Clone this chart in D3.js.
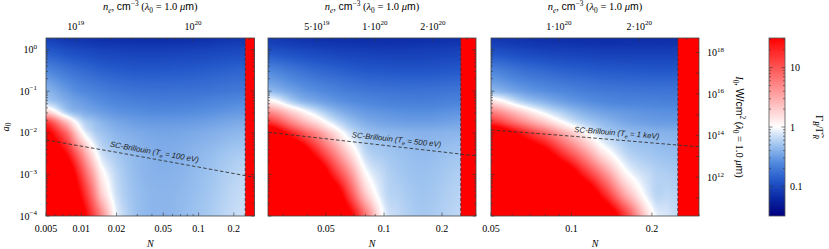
<!DOCTYPE html>
<html>
<head>
<meta charset="utf-8">
<script src="https://cdn.jsdelivr.net/npm/d3@7"></script>
<style>
  body { margin: 0; background: #fff; }
</style>
</head>
<body>
<div id="chart"></div>
<script>
// log10(Γ_B/Γ_R), rows = a0 (bottom -> top), cols = N
const a0Rows = [1e-4, 3.16e-4, 1e-3, 3.16e-3, 1e-2, 1.78e-2, 3.16e-2, 5.62e-2, 0.1, 0.316, 1, 1.9];

const N1 = [0.005, 0.0075, 0.01, 0.0125, 0.015, 0.02, 0.03, 0.05, 0.1, 0.25];
const logRatio1 = [
  [2, 2, 1.7, 1.15, 0.68, -0.05, -0.32, -0.38, -0.3, -0.15],
  [2, 2, 1.45, 0.85, 0.3, -0.15, -0.33, -0.38, -0.32, -0.17],
  [2, 1.9, 1.15, 0.55, 0.08, -0.2, -0.35, -0.4, -0.34, -0.2],
  [2, 1.45, 0.72, 0.17, -0.15, -0.28, -0.37, -0.42, -0.37, -0.26],
  [1.6, 0.9, 0.1, -0.2, -0.3, -0.38, -0.43, -0.46, -0.43, -0.36],
  [1.2, 0.4, -0.15, -0.3, -0.38, -0.45, -0.5, -0.52, -0.5, -0.43],
  [0.3, -0.25, -0.4, -0.46, -0.5, -0.55, -0.58, -0.6, -0.58, -0.52],
  [-0.25, -0.42, -0.5, -0.55, -0.59, -0.63, -0.66, -0.68, -0.66, -0.6],
  [-0.38, -0.52, -0.6, -0.64, -0.67, -0.71, -0.74, -0.75, -0.74, -0.7],
  [-0.62, -0.72, -0.78, -0.82, -0.85, -0.88, -0.9, -0.9, -0.88, -0.83],
  [-0.9, -0.97, -1.0, -1.02, -1.04, -1.05, -1.06, -1.06, -1.04, -1.0],
  [-1.05, -1.1, -1.12, -1.14, -1.15, -1.16, -1.17, -1.17, -1.15, -1.1]
];

const N2 = [0.025, 0.035, 0.045, 0.055, 0.065, 0.08, 0.1, 0.12, 0.16, 0.25];
const logRatio2 = [
  [2, 2, 2, 2, 1.65, 0.84, -0.03, -0.2, -0.28, -0.2],
  [2, 2, 2, 1.86, 1.2, 0.35, -0.15, -0.24, -0.3, -0.22],
  [2, 2, 1.95, 1.3, 0.76, 0.05, -0.2, -0.28, -0.32, -0.25],
  [2, 2, 1.33, 0.76, 0.29, -0.18, -0.28, -0.32, -0.35, -0.3],
  [1.9, 1.2, 0.68, 0.24, -0.1, -0.3, -0.36, -0.38, -0.4, -0.38],
  [1.25, 0.62, 0.2, -0.12, -0.3, -0.42, -0.47, -0.49, -0.5, -0.47],
  [0.7, 0.2, -0.15, -0.35, -0.45, -0.52, -0.55, -0.57, -0.58, -0.55],
  [0.12, -0.3, -0.45, -0.53, -0.58, -0.62, -0.65, -0.66, -0.67, -0.64],
  [-0.35, -0.5, -0.59, -0.64, -0.68, -0.71, -0.73, -0.74, -0.74, -0.72],
  [-0.62, -0.73, -0.8, -0.84, -0.87, -0.9, -0.91, -0.92, -0.92, -0.9],
  [-0.95, -1.0, -1.03, -1.05, -1.06, -1.07, -1.08, -1.08, -1.07, -1.05],
  [-1.08, -1.12, -1.14, -1.15, -1.16, -1.17, -1.17, -1.17, -1.16, -1.14]
];

const N3 = [0.05, 0.065, 0.08, 0.095, 0.11, 0.13, 0.16, 0.2, 0.23, 0.25];
const logRatio3 = [
  [2, 2, 2, 2, 2, 2, 1.14, 0.06, -0.12, -0.18],
  [2, 2, 2, 2, 2, 1.4, 0.5, -0.15, -0.2, -0.22],
  [2, 2, 2, 1.87, 1.37, 0.78, 0.06, -0.2, -0.25, -0.27],
  [2, 2, 1.66, 1.14, 0.7, 0.18, -0.2, -0.3, -0.33, -0.34],
  [2, 1.38, 0.9, 0.46, 0.11, -0.2, -0.33, -0.38, -0.4, -0.4],
  [1.25, 0.73, 0.32, -0.02, -0.22, -0.35, -0.45, -0.5, -0.51, -0.51],
  [0.75, 0.28, -0.08, -0.28, -0.4, -0.48, -0.53, -0.56, -0.57, -0.57],
  [0.2, -0.22, -0.4, -0.5, -0.56, -0.61, -0.64, -0.65, -0.66, -0.66],
  [-0.35, -0.5, -0.58, -0.63, -0.67, -0.7, -0.72, -0.73, -0.73, -0.73],
  [-0.64, -0.75, -0.81, -0.85, -0.87, -0.89, -0.9, -0.91, -0.91, -0.9],
  [-0.97, -1.02, -1.05, -1.06, -1.07, -1.08, -1.08, -1.08, -1.08, -1.07],
  [-1.1, -1.13, -1.15, -1.16, -1.17, -1.17, -1.17, -1.17, -1.17, -1.16]
];

// SC-Brillouin threshold lines
const scN1 = [0.005, 0.02, 0.1, 0.3], scA1 = [0.0067, 0.0034, 0.0015, 0.00085];
const scN2 = [0.025, 0.1, 0.3], scA2 = [0.0103, 0.005, 0.0028];
const scN3 = [0.05, 0.1, 0.3], scA3 = [0.0117, 0.0083, 0.0046];
const teLabels = ['100 eV', '500 eV', '1 keV'];

// tick labels
const xTicks1 = [0.005, 0.01, 0.02, 0.05, 0.1, 0.2];
const xTicks2 = [0.05, 0.1, 0.2];
const xTicks3 = [0.05, 0.1, 0.2];
const neTicks1 = [1e19, 1e20], neLabels1 = [['', '19'], ['', '20']];
const neTicks2 = [5e19, 1e20, 2e20], neLabels2 = [['5\u00b7', '19'], ['1\u00b7', '20'], ['2\u00b7', '20']];
const neTicks3 = [1e20, 2e20], neLabels3 = [['1\u00b7', '20'], ['2\u00b7', '20']];
const a0Ticks = [1e-4, 1e-3, 1e-2, 1e-1, 1];
const i0Ticks = [1e11, 1e12, 1e13, 1e14, 1e15, 1e16, 1e17, 1e18];
const i0Labels = [1e12, 1e14, 1e16, 1e18];
const cbTicks = [0.1, 1, 10], cbLabels = ['0.1', '1', '10'];

const nc = 1.115e21;      // critical density, 1 um
const iConv = 1.37e18;    // W/cm^2 per a0^2 at 1 um
const nMax = 0.3, nQuarter = 0.25;
const yTop = 38, yBot = 216;
const serif = 'Liberation Serif, DejaVu Serif, serif';
const sans = 'Liberation Sans, Arial, sans-serif';
const tickCol = '#333';

const svg = d3.select('#chart').append('svg')
  .attr('width', 829).attr('height', 249)
  .style('font-family', serif);

const y = d3.scaleLog().domain([1e-4, 1.9]).range([yBot, yTop]);

const cmap = d3.scaleLinear()
  .domain([-1.5, -1.2, -0.9, -0.6, -0.3, -0.1, 0, 1.5])
  .range(['#000080', '#0a28a4', '#2358ca', '#528ade', '#a0c5f0', '#dce9f9', '#ffffff', '#ff0000'])
  .clamp(true);

const panels = [
  { x0: 46, x1: 254.5, nMin: 0.005, ns: N1, vals: logRatio1, xt: xTicks1, net: neTicks1, nel: neLabels1, scN: scN1, scA: scA1, labN: 0.041 },
  { x0: 268, x1: 476, nMin: 0.025, ns: N2, vals: logRatio2, xt: xTicks2, net: neTicks2, nel: neLabels2, scN: scN2, scA: scA2, labN: 0.115 },
  { x0: 491, x1: 699, nMin: 0.05, ns: N3, vals: logRatio3, xt: xTicks3, net: neTicks3, nel: neLabels3, scN: scN3, scA: scA3, labN: 0.147 }
];

function near(v, list) { return list.some(b => Math.abs(v / b - 1) < 1e-6); }

// smooth (catmull-rom) lookup on the read grid, in log N / log a0
function cr(p0, p1, p2, p3, t) {
  return 0.5 * (2 * p1 + (p2 - p0) * t + (2 * p0 - 5 * p1 + 4 * p2 - p3) * t * t + (3 * p1 - p0 - 3 * p2 + p3) * t * t * t);
}
function sampler(ns, rows, vals) {
  const fu = d3.scaleLinear().domain(ns.map(Math.log10)).range(d3.range(ns.length)).clamp(true);
  const fv = d3.scaleLinear().domain(rows.map(Math.log10)).range(d3.range(rows.length)).clamp(true);
  const ci = k => Math.max(0, Math.min(ns.length - 1, k));
  const cj = k => Math.max(0, Math.min(rows.length - 1, k));
  return (n, a) => {
    const i = fu(Math.log10(n)), j = fv(Math.log10(a));
    const i0 = Math.min(Math.floor(i), ns.length - 2), j0 = Math.min(Math.floor(j), rows.length - 2);
    const di = i - i0, dj = j - j0;
    const r = [-1, 0, 1, 2].map(o => {
      const row = vals[cj(j0 + o)];
      return cr(row[ci(i0 - 1)], row[ci(i0)], row[ci(i0 + 1)], row[ci(i0 + 2)], di);
    });
    return cr(r[0], r[1], r[2], r[3], dj);
  };
}

// text with italic / sub / sup / sans pieces
function rich(t, fs, parts) {
  let shift = 0;
  parts.forEach(([s, st = '']) => {
    const tags = st.split(' ');
    const off = tags.includes('sup') ? -0.42 * fs : tags.includes('sub') ? 0.28 * fs : 0;
    const ts = t.append('tspan').text(s).attr('dy', off - shift);
    shift = off;
    if (off !== 0) ts.attr('font-size', 0.7 * fs);
    if (tags.includes('i')) ts.attr('font-style', 'italic');
    if (tags.includes('sans')) ts.attr('font-family', sans);
  });
}

function hTicks(g, vals, sx, yy, dir, len) {
  g.append('g').selectAll('line').data(vals).join('line')
    .attr('x1', d => sx(d)).attr('x2', d => sx(d))
    .attr('y1', yy).attr('y2', yy + dir * len)
    .attr('stroke', tickCol).attr('stroke-width', 0.6);
}
function vTicks(g, vals, sy, xx, dir, len) {
  g.append('g').selectAll('line').data(vals).join('line')
    .attr('y1', d => sy(d)).attr('y2', d => sy(d))
    .attr('x1', xx).attr('x2', xx + dir * len)
    .attr('stroke', tickCol).attr('stroke-width', 0.6);
}

function drawHeat(g, p, x) {
  const w = Math.round(p.x1 - p.x0), h = yBot - yTop;
  const cv = document.createElement('canvas');
  cv.width = w; cv.height = h;
  const ctx = cv.getContext('2d');
  const img = ctx.createImageData(w, h);
  const f = sampler(p.ns, a0Rows, p.vals);
  for (let j = 0; j < h; j++) {
    const a = y.invert(yTop + j + 0.5);
    for (let i = 0; i < w; i++) {
      const c = d3.rgb(cmap(f(x.invert(p.x0 + i + 0.5), a)));
      const k = 4 * (j * w + i);
      img.data[k] = c.r; img.data[k + 1] = c.g; img.data[k + 2] = c.b; img.data[k + 3] = 255;
    }
  }
  ctx.putImageData(img, 0, 0);
  g.append('image').attr('x', p.x0).attr('y', yTop)
    .attr('width', p.x1 - p.x0).attr('height', h)
    .attr('preserveAspectRatio', 'none')
    .attr('href', cv.toDataURL());
}

panels.forEach((p, pi) => {
  const x = d3.scaleLog().domain([p.nMin, nMax]).range([p.x0, p.x1]);
  const ne = d3.scaleLog().domain([p.nMin * nc, nMax * nc]).range([p.x0, p.x1]);
  const g = svg.append('g');

  drawHeat(g, p, x);

  // N > 1/4 : no Raman
  g.append('rect').attr('x', x(nQuarter)).attr('y', yTop)
    .attr('width', p.x1 - x(nQuarter)).attr('height', yBot - yTop)
    .attr('fill', '#ff0000');
  g.append('line').attr('x1', x(nQuarter)).attr('x2', x(nQuarter))
    .attr('y1', yTop).attr('y2', yBot)
    .attr('stroke', '#333').attr('stroke-width', 0.8).attr('stroke-dasharray', '3,2');

  // SC-Brillouin threshold
  const pts = d3.zip(p.scN, p.scA);
  g.append('path').datum(pts)
    .attr('d', d3.line().x(d => x(d[0])).y(d => y(d[1])))
    .attr('fill', 'none').attr('stroke', '#333').attr('stroke-width', 0.9)
    .attr('stroke-dasharray', '3.5,2.2');
  const onLine = d3.scaleLinear().domain(p.scN.map(Math.log10)).range(p.scA.map(Math.log10));
  const lx = x(p.labN), ly = y(10 ** onLine(Math.log10(p.labN)));
  const p0 = pts[0], p1 = pts[pts.length - 1];
  const ang = Math.atan2(y(p1[1]) - y(p0[1]), x(p1[0]) - x(p0[0])) * 180 / Math.PI;
  const lab = g.append('text')
    .attr('transform', `translate(${lx},${ly}) rotate(${ang})`)
    .attr('y', -4.5).attr('text-anchor', 'middle')
    .attr('font-family', sans).attr('font-style', 'italic')
    .attr('font-size', 7.8).attr('fill', '#222');
  rich(lab, 7.8, [['SC-Brillouin ('], ['T', 'i'], ['e', 'i sub'], [' = ' + teLabels[pi] + ')']]);

  // ticks, all inward
  const xAll = x.ticks();
  hTicks(g, xAll.filter(d => !near(d, p.xt)), x, yBot, -1, 2);
  hTicks(g, p.xt, x, yBot, -1, 3.5);
  const neAll = ne.ticks();
  hTicks(g, neAll.filter(d => !near(d, p.net)), ne, yTop, 1, 2);
  hTicks(g, p.net, ne, yTop, 1, 3.5);
  const yAll = y.ticks();
  vTicks(g, yAll.filter(d => !near(d, a0Ticks)), y, p.x0, 1, 2);
  vTicks(g, a0Ticks, y, p.x0, 1, 3.5);
  if (pi < 2) {
    vTicks(g, yAll.filter(d => !near(d, a0Ticks)), y, p.x1, -1, 2);
    vTicks(g, a0Ticks, y, p.x1, -1, 3.5);
  }

  // frame
  g.append('rect').attr('x', p.x0).attr('y', yTop)
    .attr('width', p.x1 - p.x0).attr('height', yBot - yTop)
    .attr('fill', 'none').attr('stroke', '#444').attr('stroke-width', 0.8);

  // bottom labels
  g.append('g').selectAll('text').data(p.xt).join('text')
    .attr('x', d => x(d)).attr('y', 232)
    .attr('text-anchor', 'middle').attr('font-size', 10)
    .text(d => String(d));
  g.append('text').attr('x', (p.x0 + p.x1) / 2).attr('y', 246.5)
    .attr('text-anchor', 'middle').attr('font-size', 10).attr('font-style', 'italic')
    .text('N');

  // top labels
  p.net.forEach((v, k) => {
    const t = g.append('text').attr('x', ne(v)).attr('y', 29.5)
      .attr('text-anchor', 'middle').attr('font-size', 10);
    rich(t, 10, [[p.nel[k][0] + '10'], [p.nel[k][1], 'sup']]);
  });
  const tt = g.append('text').attr('x', (p.x0 + p.x1) / 2).attr('y', 10)
    .attr('text-anchor', 'middle').attr('font-size', 10.5);
  rich(tt, 10.5, [['n', 'i'], ['e', 'i sub'], [', '], ['cm', 'sans'], ['\u22123', 'sup'], [' ('],
    ['\u03bb', 'i'], ['0', 'sub'], [' = 1.0 '], ['\u03bc', 'i'], ['m', 'sans'], [')']]);
});

// left a0 axis labels
a0Ticks.forEach(v => {
  const e = Math.round(Math.log10(v));
  const t = svg.append('text').attr('x', 37).attr('y', y(v) + 3.5)
    .attr('text-anchor', 'end').attr('font-size', 10);
  rich(t, 10, [['10'], [e === 0 ? '0' : '\u2212' + Math.abs(e), 'sup']]);
});
const yl = svg.append('text').attr('transform', `translate(8.5,${(yTop + yBot) / 2}) rotate(-90)`)
  .attr('text-anchor', 'middle').attr('font-size', 10.5);
rich(yl, 10.5, [['a', 'i'], ['0', 'sub']]);

// right I0 axis on last panel
const p3 = panels[2];
const iy = d3.scaleLog().domain([iConv * 1e-8, iConv * 1.9 * 1.9]).range([yBot, yTop]);
vTicks(svg, i0Ticks, iy, p3.x1, -1, 3);
i0Labels.forEach(v => {
  const t = svg.append('text').attr('x', 707).attr('y', iy(v) + 3.5).attr('font-size', 10);
  rich(t, 10, [['10'], [String(Math.round(Math.log10(v))), 'sup']]);
});
const il = svg.append('text').attr('transform', `translate(736,${(yTop + yBot) / 2}) rotate(90)`)
  .attr('text-anchor', 'middle').attr('font-size', 10.5);
rich(il, 10.5, [['I', 'i'], ['0', 'sub'], [', '], ['W/cm', 'sans'], ['2', 'sup'], [' ('],
  ['\u03bb', 'i'], ['0', 'sub'], [' = 1.0 '], ['\u03bc', 'i'], ['m', 'sans'], [')']]);

// colorbar
const cbX = 769, cbW = 16;
const cb = d3.scaleLog().domain([10 ** -1.5, 10 ** 1.5]).range([yBot, yTop]);
const grad = svg.append('defs').append('linearGradient').attr('id', 'cbgrad')
  .attr('x1', 0).attr('y1', 1).attr('x2', 0).attr('y2', 0);
grad.selectAll('stop').data(d3.range(-1.5, 1.5001, 0.05)).join('stop')
  .attr('offset', d => (d + 1.5) / 3)
  .attr('stop-color', d => cmap(d));
svg.append('rect').attr('x', cbX).attr('y', yTop).attr('width', cbW).attr('height', yBot - yTop)
  .attr('fill', 'url(#cbgrad)');
const cbAll = cb.ticks();
vTicks(svg, cbAll.filter(d => !near(d, cbTicks)), cb, cbX, 1, 2);
vTicks(svg, cbAll.filter(d => !near(d, cbTicks)), cb, cbX + cbW, -1, 2);
vTicks(svg, cbTicks, cb, cbX, 1, 3.5);
vTicks(svg, cbTicks, cb, cbX + cbW, -1, 3.5);
svg.append('rect').attr('x', cbX).attr('y', yTop).attr('width', cbW).attr('height', yBot - yTop)
  .attr('fill', 'none').attr('stroke', '#555').attr('stroke-width', 0.8);
svg.append('g').selectAll('text').data(cbTicks).join('text')
  .attr('x', 790).attr('y', d => cb(d) + 3.5).attr('font-size', 10)
  .text((d, i) => cbLabels[i]);
const cl = svg.append('text').attr('transform', `translate(815.5,${(yTop + yBot) / 2}) rotate(90)`)
  .attr('text-anchor', 'middle').attr('font-size', 10.5);
rich(cl, 10.5, [['\u0393'], ['B', 'i sub'], ['/'], ['\u0393\u0303'], ['R', 'i sub']]);
</script>
</body>
</html>
